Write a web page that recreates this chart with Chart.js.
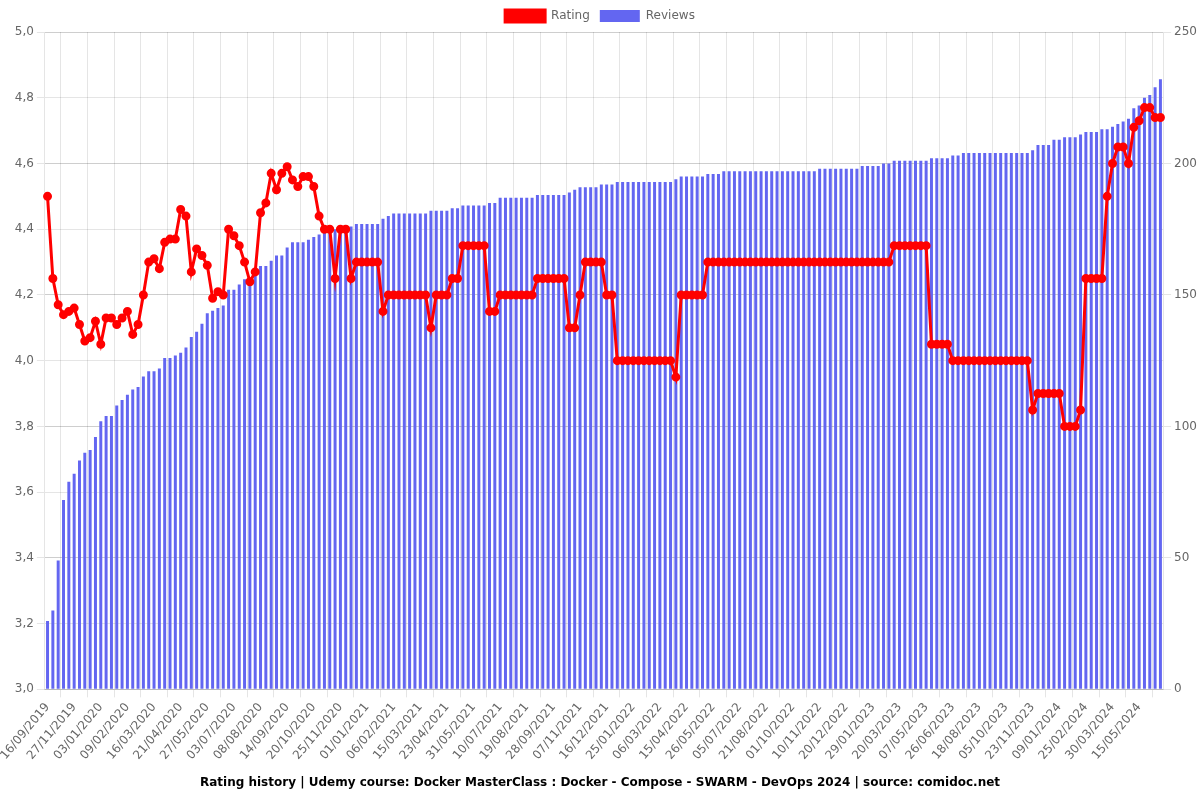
<!DOCTYPE html>
<html>
<head>
<meta charset="utf-8">
<script src="https://cdn.jsdelivr.net/npm/chart.js@4/dist/chart.umd.min.js"></script>
<style>
  html, body { margin: 0; padding: 0; background: #fff; }
  #wrap { width: 1200px; height: 800px; }
</style>
</head>
<body>
<div id="wrap"><canvas id="chart"></canvas></div>
<script>
// dates shown on the x axis (every 5th snapshot)
const tickDates = [
  "16/09/2019", "27/11/2019", "03/01/2020", "09/02/2020", "16/03/2020", "21/04/2020",
  "27/05/2020", "03/07/2020", "08/08/2020", "14/09/2020", "20/10/2020", "25/11/2020",
  "01/01/2021", "06/02/2021", "15/03/2021", "23/04/2021", "31/05/2021", "10/07/2021",
  "19/08/2021", "28/09/2021", "07/11/2021", "16/12/2021", "25/01/2022", "06/03/2022",
  "15/04/2022", "26/05/2022", "05/07/2022", "21/08/2022", "01/10/2022", "10/11/2022",
  "20/12/2022", "29/01/2023", "20/03/2023", "07/05/2023", "26/06/2023", "18/08/2023",
  "05/10/2023", "23/11/2023", "09/01/2024", "25/02/2024", "30/03/2024", "15/05/2024"
];

const rating = [
  4.50, 4.25, 4.17, 4.14, 4.15, 4.16, 4.11, 4.06, 4.07, 4.12,
  4.05, 4.13, 4.13, 4.11, 4.13, 4.15, 4.08, 4.11, 4.20, 4.30,
  4.31, 4.28, 4.36, 4.37, 4.37, 4.46, 4.44, 4.27, 4.34, 4.32,
  4.29, 4.19, 4.21, 4.20, 4.40, 4.38, 4.35, 4.30, 4.24, 4.27,
  4.45, 4.48, 4.57, 4.52, 4.57, 4.59, 4.55, 4.53, 4.56, 4.56,
  4.53, 4.44, 4.40, 4.40, 4.25, 4.40, 4.40, 4.25, 4.30, 4.30,
  4.30, 4.30, 4.30, 4.15, 4.20, 4.20, 4.20, 4.20, 4.20, 4.20,
  4.20, 4.20, 4.10, 4.20, 4.20, 4.20, 4.25, 4.25, 4.35, 4.35,
  4.35, 4.35, 4.35, 4.15, 4.15, 4.20, 4.20, 4.20, 4.20, 4.20,
  4.20, 4.20, 4.25, 4.25, 4.25, 4.25, 4.25, 4.25, 4.10, 4.10,
  4.20, 4.30, 4.30, 4.30, 4.30, 4.20, 4.20, 4.00, 4.00, 4.00,
  4.00, 4.00, 4.00, 4.00, 4.00, 4.00, 4.00, 4.00, 3.95, 4.20,
  4.20, 4.20, 4.20, 4.20, 4.30, 4.30, 4.30, 4.30, 4.30, 4.30,
  4.30, 4.30, 4.30, 4.30, 4.30, 4.30, 4.30, 4.30, 4.30, 4.30,
  4.30, 4.30, 4.30, 4.30, 4.30, 4.30, 4.30, 4.30, 4.30, 4.30,
  4.30, 4.30, 4.30, 4.30, 4.30, 4.30, 4.30, 4.30, 4.30, 4.35,
  4.35, 4.35, 4.35, 4.35, 4.35, 4.35, 4.05, 4.05, 4.05, 4.05,
  4.00, 4.00, 4.00, 4.00, 4.00, 4.00, 4.00, 4.00, 4.00, 4.00,
  4.00, 4.00, 4.00, 4.00, 4.00, 3.85, 3.90, 3.90, 3.90, 3.90,
  3.90, 3.80, 3.80, 3.80, 3.85, 4.25, 4.25, 4.25, 4.25, 4.50,
  4.60, 4.65, 4.65, 4.60, 4.71, 4.73, 4.77, 4.77, 4.74, 4.74
];

const reviews = [
  26, 30, 49, 72, 79, 82, 87, 90, 91, 96,
  102, 104, 104, 108, 110, 112, 114, 115, 119, 121,
  121, 122, 126, 126, 127, 128, 130, 134, 136, 139,
  143, 144, 145, 146, 152, 152, 154, 156, 156, 159,
  161, 161, 163, 165, 165, 168, 170, 170, 170, 171,
  172, 173, 175, 175, 175, 176, 176, 176, 177, 177,
  177, 177, 177, 179, 180, 181, 181, 181, 181, 181,
  181, 181, 182, 182, 182, 182, 183, 183, 184, 184,
  184, 184, 184, 185, 185, 187, 187, 187, 187, 187,
  187, 187, 188, 188, 188, 188, 188, 188, 189, 190,
  191, 191, 191, 191, 192, 192, 192, 193, 193, 193,
  193, 193, 193, 193, 193, 193, 193, 193, 194, 195,
  195, 195, 195, 195, 196, 196, 196, 197, 197, 197,
  197, 197, 197, 197, 197, 197, 197, 197, 197, 197,
  197, 197, 197, 197, 197, 198, 198, 198, 198, 198,
  198, 198, 198, 199, 199, 199, 199, 200, 200, 201,
  201, 201, 201, 201, 201, 201, 202, 202, 202, 202,
  203, 203, 204, 204, 204, 204, 204, 204, 204, 204,
  204, 204, 204, 204, 204, 205, 207, 207, 207, 209,
  209, 210, 210, 210, 211, 212, 212, 212, 213, 213,
  214, 215, 216, 217, 221, 222, 225, 226, 229, 232
];

// the snapshots between two shown dates are not labelled in the picture,
// so give them dates spread between their neighbours
function parseDate(s) {
  const p = s.split("/");
  return new Date(Date.UTC(+p[2], +p[1] - 1, +p[0]));
}
function fmtDate(d) {
  const dd = String(d.getUTCDate()).padStart(2, "0");
  const mm = String(d.getUTCMonth() + 1).padStart(2, "0");
  return dd + "/" + mm + "/" + d.getUTCFullYear();
}
const labels = [];
for (let k = 0; k < tickDates.length; k++) {
  const a = parseDate(tickDates[k]).getTime();
  const b = k + 1 < tickDates.length ? parseDate(tickDates[k + 1]).getTime() : a + 45 * 86400000;
  for (let j = 0; j < 5 && labels.length < rating.length; j++) {
    labels.push(fmtDate(new Date(a + Math.round((b - a) * j / 5 / 86400000) * 86400000)));
  }
}

Chart.defaults.font.family = "'DejaVu Sans', sans-serif";

const ctx = document.getElementById("chart").getContext("2d");
const chart = new Chart(ctx, {
  type: "bar",
  data: {
    labels: labels,
    datasets: [
      {
        type: "line",
        label: "Rating",
        data: rating,
        yAxisID: "y",
        borderColor: "#ff0000",
        backgroundColor: "#ff0000",
        borderWidth: 3,
        pointRadius: 3,
        pointHoverRadius: 3,
        tension: 0,
      },
      {
        type: "bar",
        label: "Reviews",
        data: reviews,
        yAxisID: "y1",
        backgroundColor: "#6366f1",
        borderWidth: 0,
        barPercentage: 0.7,
      },
    ],
  },
  options: {
    responsive: true,
    maintainAspectRatio: false,
    animation: false,
    locale: "de-DE",
    plugins: {
      legend: { position: "top" },
      title: {
        display: true,
        position: "bottom",
        text: "Rating history | Udemy course: Docker MasterClass : Docker - Compose - SWARM - DevOps 2024 | source: comidoc.net",
        color: "#000",
        font: { size: 12, weight: "bold" },
      },
      tooltip: { enabled: false },
    },
    scales: {
      x: {},
      y: {
        position: "left",
        min: 3,
        max: 5,
        ticks: { stepSize: 0.2 },
      },
      y1: {
        position: "right",
        min: 0,
        max: 250,
        ticks: { stepSize: 50 },
      },
    },
  },
});
</script>
</body>
</html>
